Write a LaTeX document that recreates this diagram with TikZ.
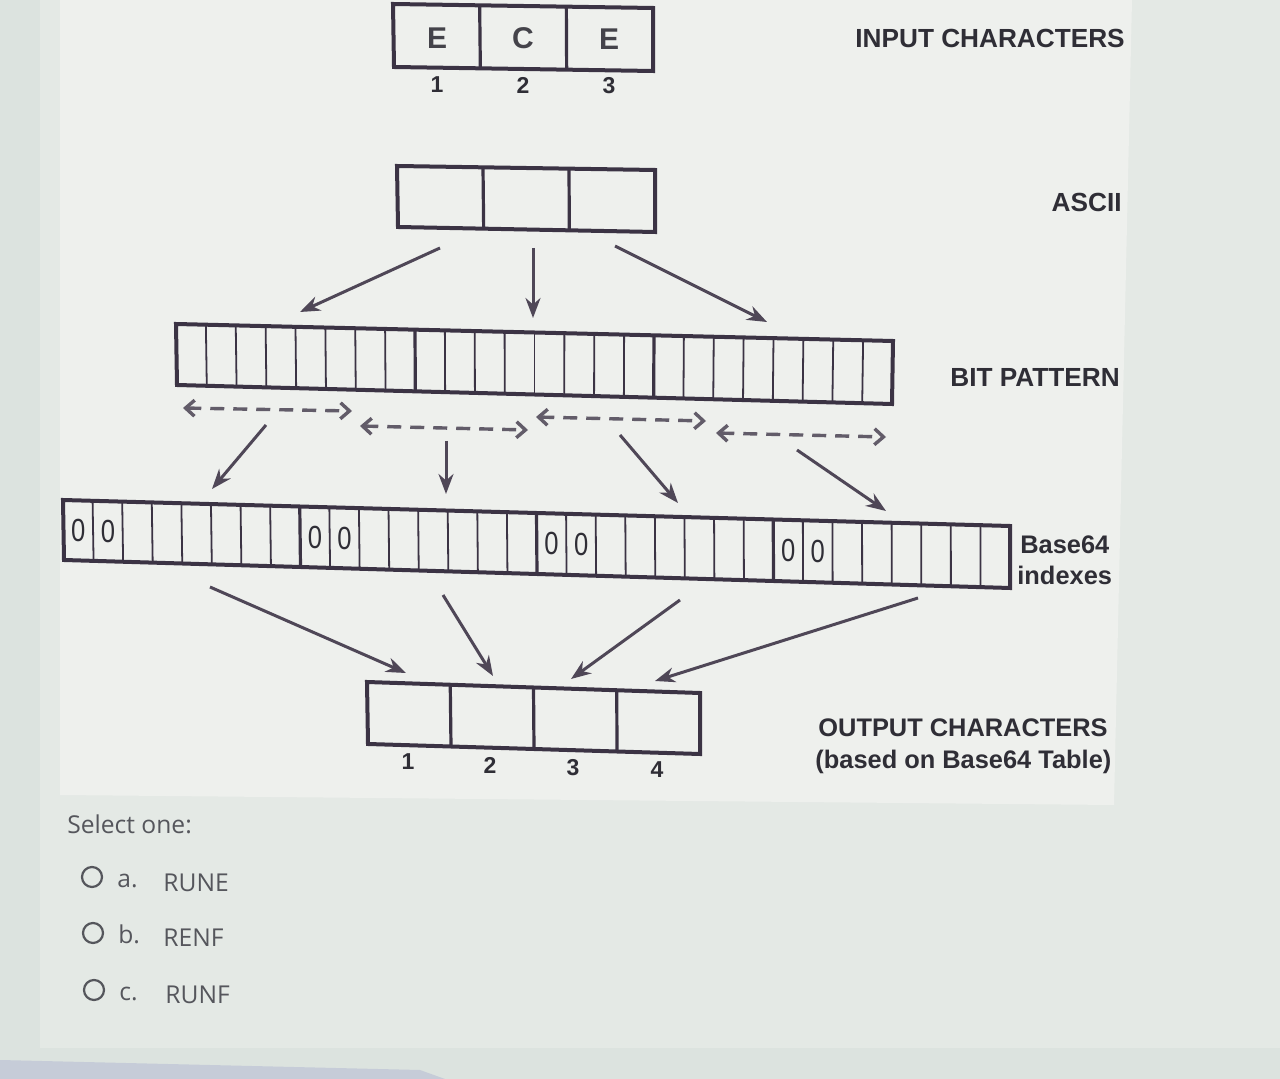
\documentclass[tikz,border=0pt]{standalone}
\usepackage{fontspec}
\usetikzlibrary{calc,arrows.meta}
\newfontfamily\dfont{Liberation Sans}
\newfontfamily\ufont{Open Sans}
\definecolor{ink}{HTML}{3B3344}
\definecolor{txt}{HTML}{2F2E36}
\definecolor{bgA}{HTML}{DCE3DF}
\definecolor{bgB}{HTML}{E4E9E5}
\definecolor{panel}{HTML}{EEF0ED}
\definecolor{strip}{HTML}{C6CCD8}
\definecolor{ugray}{HTML}{55565C}
\tikzset{
  rowline/.style={draw=ink,line width=2pt,line join=miter},
  cellline/.style={draw=ink,line width=0.9pt},
  groupline/.style={draw=ink,line width=1.6pt},
  solidarrow/.style={draw=ink!90,line width=1.5pt,-{Stealth[length=10pt,width=7.5pt]}},
  dasharrow/.style={draw=ink!80,line width=1.7pt,dash pattern=on 7pt off 4.5pt,
     {Straight Barb[length=4.5pt,width=8pt]}-{Straight Barb[length=4.5pt,width=8pt]}},
  lbl/.style={font=\dfont\bfseries\fontsize{13.1pt}{16pt}\selectfont,text=txt,inner sep=0pt},
  lbls/.style={font=\dfont\bfseries\fontsize{12.7pt}{15pt}\selectfont,text=txt,inner sep=0pt},
  letter/.style={font=\dfont\bfseries\fontsize{15pt}{17pt}\selectfont,text=txt!90,inner sep=0pt},
  num/.style={font=\dfont\bfseries\fontsize{11.5pt}{13pt}\selectfont,text=txt,inner sep=0pt},
  zero/.style={font=\dfont\fontsize{16pt}{18pt}\selectfont,text=txt,inner sep=0pt,xscale=0.8},
  ui/.style={font=\ufont\fontsize{12.3pt}{14pt}\selectfont,text=ugray,inner sep=0pt,anchor=base west},
  radio/.style={draw=ugray,line width=1.1pt,circle,minimum size=10pt,inner sep=0pt},
}
\newcommand\drawrow[7]{%
  \coordinate (#1-lt) at (#2);
  \coordinate (#1-rt) at (#3);
  \coordinate (#1-lb) at (#4);
  \coordinate (#1-rb) at (#5);
  \coordinate (#1-lm) at ($(#1-lt)!0.5!(#1-lb)$);
  \coordinate (#1-rm) at ($(#1-rt)!0.5!(#1-rb)$);
  \pgfmathtruncatemacro\nm{#6-1}%
  \foreach \i in {1,...,\nm}{%
    \pgfmathsetmacro\tt{\i/#6}%
    \pgfmathtruncatemacro\gg{mod(\i,#7)==0}%
    \ifnum\gg=1
      \draw[groupline] ($(#1-lt)!\tt!(#1-rt)$) -- ($(#1-lb)!\tt!(#1-rb)$);
    \else
      \draw[cellline] ($(#1-lt)!\tt!(#1-rt)$) -- ($(#1-lb)!\tt!(#1-rb)$);
    \fi
  }%
  \draw[rowline] (#1-lt) -- (#1-rt) -- (#1-rb) -- (#1-lb) -- cycle;
}
\begin{document}
\begin{tikzpicture}[x=0.5pt,y=-0.5pt]
\useasboundingbox (0,0) rectangle (1280,1079);
% backgrounds
\fill[bgA] (0,0) rectangle (1280,1079);
\fill[bgB] (40,0) rectangle (1280,1048);
\fill[panel] (60,0) -- (1132,0) -- (1114,805) -- (60,795) -- cycle;
\fill[strip] (0,1060) -- (420,1070) -- (445,1079) -- (0,1079) -- cycle;

% rows
\drawrow{in}{393,4}{653,8}{394,67}{653,71}{3}{1}
\drawrow{asc}{397,166}{655,170}{398,227}{655,232}{3}{1}
\drawrow{bit}{176,324}{893,341}{177,385}{892,404}{24}{8}
\drawrow{b64}{63,500}{1010,526}{64,560}{1010,588}{32}{8}
\drawrow{out}{367,682}{700,693}{368,744}{700,754}{4}{1}

% input letters
\node[letter] (l1) at (437,38) {E};
\node[letter] (l2) at (523,38) {C};
\node[letter] (l3) at (609,39) {E};
\node[num] (n1) at (437,85) {1};
\node[num] (n2) at (523,85) {2};
\node[num] (n3) at (609,86) {3};

% zeros
\foreach \k in {0,1,8,9,16,17,24,25}{
  \pgfmathsetmacro\tz{(\k+0.5)/32}
  \node[zero] (z\k) at ($(b64-lm)!\tz!(b64-rm)$) {0};
}

% output numbers
\node[num] (o1) at (408,762) {1};
\node[num] (o2) at (490,765) {2};
\node[num] (o3) at (573,768) {3};
\node[num] (o4) at (657,770) {4};

% labels
\node[lbl,anchor=west] (linput) at (855,38) {INPUT CHARACTERS};
\node[lbl,anchor=east] (lascii) at (1122,202) {ASCII};
\node[lbl,anchor=west] (lbit) at (950,377) {BIT PATTERN};
\node[lbls,anchor=west] (lb64) at (1020,545) {Base64};
\node[lbls,anchor=west] (lidx) at (1017,575) {indexes};
\node[lbls,anchor=west] (lout) at (818,728) {OUTPUT CHARACTERS};
\node[lbls,anchor=west] (lbased) at (815,762) {(based on Base64 Table)};

% arrows ASCII -> bits
\coordinate (a1s) at (440,248); \coordinate (a1e) at (300,312);
\coordinate (a2s) at (533,248); \coordinate (a2e) at (533,318);
\coordinate (a3s) at (615,246); \coordinate (a3e) at (767,322);
\draw[solidarrow] (a1s) -- (a1e);
\draw[solidarrow] (a2s) -- (a2e);
\draw[solidarrow] (a3s) -- (a3e);

% dashed spans
\coordinate (d1a) at (183,408); \coordinate (d1b) at (352,411);
\coordinate (d2a) at (360,426); \coordinate (d2b) at (528,430);
\coordinate (d3a) at (536,417); \coordinate (d3b) at (706,421);
\coordinate (d4a) at (716,433); \coordinate (d4b) at (886,437);
\draw[dasharrow] (d1a) -- (d1b);
\draw[dasharrow] (d2a) -- (d2b);
\draw[dasharrow] (d3a) -- (d3b);
\draw[dasharrow] (d4a) -- (d4b);

% arrows bits -> base64
\coordinate (b1s) at (266,425); \coordinate (b1e) at (212,489);
\coordinate (b2s) at (446,441); \coordinate (b2e) at (446,494);
\coordinate (b3s) at (620,435); \coordinate (b3e) at (678,503);
\coordinate (b4s) at (797,450); \coordinate (b4e) at (886,511);
\draw[solidarrow] (b1s) -- (b1e);
\draw[solidarrow] (b2s) -- (b2e);
\draw[solidarrow] (b3s) -- (b3e);
\draw[solidarrow] (b4s) -- (b4e);

% arrows base64 -> output
\coordinate (c1s) at (210,587); \coordinate (c1e) at (406,673);
\coordinate (c2s) at (443,595); \coordinate (c2e) at (493,676);
\coordinate (c3s) at (680,600); \coordinate (c3e) at (571,679);
\coordinate (c4s) at (918,598); \coordinate (c4e) at (655,681);
\draw[solidarrow] (c1s) -- (c1e);
\draw[solidarrow] (c2s) -- (c2e);
\draw[solidarrow] (c3s) -- (c3e);
\draw[solidarrow] (c4s) -- (c4e);

% question UI
\node[ui] (sel) at (67,833) {Select one:};
\node[radio] (ra) at (92,877) {};
\node[radio] (rb) at (93,933) {};
\node[radio] (rc) at (94,990) {};
\node[ui] (ta) at (117,887) {a.};
\node[ui] (tb) at (118,943) {b.};
\node[ui] (tc) at (119,1000) {c.};
\node[ui] (va) at (163,891) {RUNE};
\node[ui] (vb) at (163,946) {RENF};
\node[ui] (vc) at (165,1003) {RUNF};
\end{tikzpicture}
\end{document}
